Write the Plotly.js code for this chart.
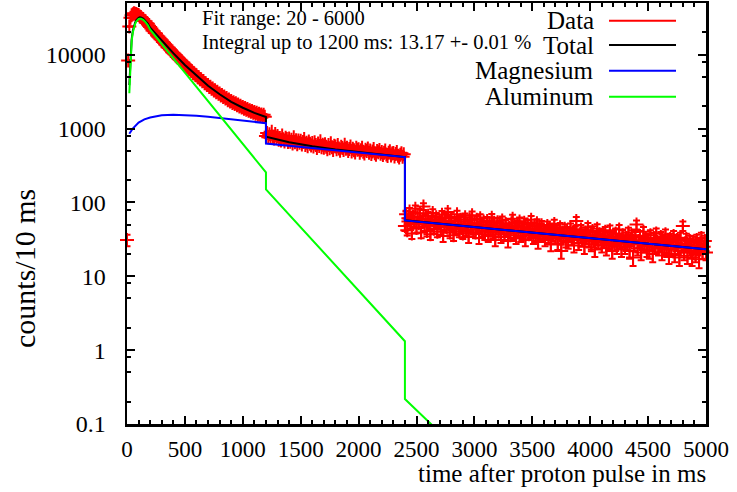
<!DOCTYPE html>
<html><head><meta charset="utf-8">
<script src="https://cdn.plot.ly/plotly-3.0.1.min.js"></script>
<style>html,body{margin:0;padding:0;background:#fff}#chart{width:737px;height:492px}</style>
</head><body><div id="chart"></div>
<script>
// Data: counts per 10 ms bin, starting at t = 0 ms
const binWidth = 10;
const countsA = [ // t = 0 .. 1190 ms
  31, 8300, 24000, 31500, 34200, 35100, 36300, 35800, 35600, 34700,
  34300, 32800, 32300, 30800, 30300, 28700, 28200, 26800, 26100, 24600,
  23700, 22600, 21300, 20800, 19600, 19300, 18100, 17600, 16900, 16200,
  15700, 14800, 14500, 13700, 13400, 12600, 12400, 11700, 11500, 10800,
  10600, 10100, 9850, 9300, 9150, 8650, 8500, 8050, 7900, 7480,
  7350, 6980, 6850, 6490, 6420, 6050, 6000, 5650, 5600, 5290,
  5240, 4950, 4930, 4640, 4650, 4360, 4380, 4100, 4110, 3870,
  3880, 3640, 3680, 3450, 3490, 3270, 3300, 3100, 3140, 2950,
  2980, 2800, 2840, 2670, 2710, 2540, 2590, 2420, 2470, 2320,
  2360, 2220, 2270, 2140, 2190, 2060, 2110, 1990, 2030, 1920,
  1960, 1850, 1890, 1790, 1830, 1740, 1770, 1680, 1720, 1630,
  1670, 1580, 1630, 1540, 1590, 1510, 1550, 1470, 1530, 1440
];
const countsB = [ // t = 1200 .. 2390 ms
  790, 872, 761, 835, 748, 902, 776, 731, 845, 752,
  790, 702, 741, 688, 803, 715, 668, 752, 721, 659,
  731, 664, 705, 628, 762, 651, 694, 612, 688, 640,
  682, 609, 657, 720, 598, 641, 575, 668, 622, 590,
  636, 571, 654, 598, 545, 625, 580, 672, 557, 601,
  548, 611, 566, 523, 597, 542, 630, 559, 512, 585,
  571, 524, 596, 537, 498, 566, 545, 510, 602, 531,
  549, 497, 526, 571, 488, 532, 509, 474, 551, 515,
  522, 470, 509, 548, 483, 460, 517, 495, 536, 468,
  503, 451, 489, 526, 464, 440, 497, 476, 512, 455,
  482, 437, 471, 505, 446, 423, 468, 492, 430, 459,
  466, 418, 451, 480, 427, 405, 443, 462, 414, 448
];
const countsC = [ // t = 2400 .. 5000 ms
  48, 69, 42, 61, 75, 51, 38, 64, 55, 82,
  45, 63, 52, 71, 39, 58, 88, 47, 60, 41,
  66, 49, 37, 58, 72, 44, 55, 63, 40, 52,
  57, 43, 68, 35, 54, 62, 46, 74, 50, 39,
  61, 47, 36, 56, 44, 69, 51, 40, 58, 45,
  38, 55, 63, 42, 50, 34, 59, 46, 67, 43,
  52, 39, 58, 45, 33, 61, 48, 41, 55, 37,
  47, 56, 35, 50, 42, 62, 39, 53, 31, 46,
  54, 40, 48, 34, 57, 44, 37, 51, 42, 30,
  45, 36, 52, 60, 38, 47, 33, 49, 41, 55,
  35, 46, 39, 53, 31, 44, 50, 37, 42, 58,
  41, 33, 47, 36, 52, 29, 44, 38, 49, 35,
  43, 31, 39, 48, 34, 45, 27, 40, 36, 51,
  33, 42, 28, 38, 46, 22, 39, 35, 44, 30,
  40, 29, 36, 45, 32, 38, 26, 41, 56, 34,
  28, 37, 43, 31, 35, 25, 39, 33, 46, 30,
  36, 27, 41, 30, 23, 34, 44, 29, 37, 32,
  26, 35, 30, 40, 24, 33, 28, 42, 31, 22,
  34, 27, 38, 25, 31, 43, 29, 23, 36, 30,
  25, 33, 28, 39, 22, 31, 36, 18, 27, 34,
  50, 24, 30, 35, 21, 28, 40, 26, 32, 23,
  31, 22, 36, 27, 20, 33, 25, 38, 29, 24,
  27, 34, 21, 30, 25, 37, 23, 29, 19, 32,
  23, 29, 35, 20, 27, 31, 24, 18, 33, 26,
  48, 21, 28, 32, 19, 26, 30, 22, 18, 29,
  26, 20, 31, 24, 17, 28, 33, 22, 25, 30,
  21
];

// Fit curves (time in ms, counts/10 ms)
const totalT = [20,30,40,50,60,70,80,90,100,110,120,140,160,180,200,300,400,500,600,700,800,900,1000,1100,1200,1200,1400,1600,1800,2000,2200,2400,2400,3700,5000];
const totalV = [3870,9900,15950,21000,24550,27100,29150,30700,31500,31930,31800,30800,28900,26300,23200,15500,10470,7260,5170,3790,2908,2296,1910,1627,1434,777,652,575,521,478,443,411,57.2,36.4,23.2];
const mgT = [20,50,100,150,200,300,400,500,600,700,800,900,1000,1100,1200,1200,1800,2400,2400,3700,5000];
const mgV = [850,1000,1200,1330,1410,1510,1540,1530,1490,1440,1390,1330,1280,1230,1180,627,507,410,57,36.4,23.2];
const alT = [20,30,40,50,60,70,80,90,100,110,120,140,160,180,200,400,600,800,1000,1200,1200,1600,2000,2400,2400,2700];
const alV = [3000,9000,15000,20000,23500,26000,28000,29500,30300,30700,30600,29500,27600,25000,21800,8930,3670,1508,620,254,150,31,6.4,1.32,0.218,0.077];

const legendNames = ['Data','Total','Magnesium','Aluminum'];
const legendColors = ['#ff0000','#000000','#0000ff','#00ff00'];
const fitTexts = ['Fit range: 20 - 6000','Integral up to 1200 ms: 13.17 +- 0.01 %'];
const xTickVals = [0,500,1000,1500,2000,2500,3000,3500,4000,4500,5000];
const yTickVals = [0.1,1,10,100,1000,10000];
const yTickText = ['0.1','1','10','100','1000','10000'];
const yMinorVals = [0.2,0.5,0.8,2,5,8,20,50,80,200,500,800,2000,5000,8000,20000];

const counts = countsA.concat(countsB, countsC);
const times = counts.map((_, i) => i * binWidth);
const errs = counts.map(v => Math.sqrt(v));

const FONT = 'Liberation Serif';

const traces = [
  {type:'scatter', mode:'markers', x:times, y:counts, cliponaxis:false,
   marker:{symbol:'cross-thin', size:10, color:'#ff0000', line:{color:'#ff0000', width:2}},
   error_y:{type:'data', array:errs, visible:true, color:'#ff0000', thickness:2, width:3.5},
   hoverinfo:'skip'},
  {type:'scatter', mode:'lines', x:totalT, y:totalV, line:{color:'#000000', width:2}},
  {type:'scatter', mode:'lines', x:mgT, y:mgV, line:{color:'#0000ff', width:2}},
  {type:'scatter', mode:'lines', x:alT, y:alV, line:{color:'#00ff00', width:2}},
  {type:'scatter', mode:'markers', x:[0], y:[1], yaxis:'y2', marker:{opacity:0}, hoverinfo:'skip'}
];

const rowY = [0.958, 0.9002, 0.8392, 0.7774];
const annotations = [];
const shapes = [];
legendNames.forEach((n, i) => {
  annotations.push({xref:'paper', yref:'paper', x:0.81, y:rowY[i], xanchor:'right', yanchor:'middle',
    text:n, showarrow:false, font:{family:FONT, size:25, color:'#000'}});
  shapes.push({type:'line', xref:'paper', yref:'paper', x0:0.8325, x1:0.9482, y0:rowY[i], y1:rowY[i],
    line:{color:legendColors[i], width:2}});
});
annotations.push({xref:'paper', yref:'paper', x:0.126, y:0.962, xanchor:'left', yanchor:'middle',
  text:fitTexts[0], showarrow:false, font:{family:FONT, size:20.5, color:'#000'}});
annotations.push({xref:'paper', yref:'paper', x:0.126, y:0.907, xanchor:'left', yanchor:'middle',
  text:fitTexts[1], showarrow:false, font:{family:FONT, size:20.5, color:'#000'}});
annotations.push({xref:'paper', yref:'paper', x:-0.178, y:0.3705, xanchor:'center', yanchor:'middle',
  text:'counts/10 ms', textangle:-90, showarrow:false, font:{family:FONT, size:30, color:'#000'}});
annotations.push({xref:'paper', yref:'paper', x:1.0035, y:-0.117, xanchor:'right', yanchor:'middle',
  text:'time after proton pulse in ms', showarrow:false, font:{family:FONT, size:25, color:'#000'}});

const yRange = [-1, Math.log10(50000)];
const layout = {
  width:737, height:492,
  margin:{l:127, r:31, t:3, b:68},
  paper_bgcolor:'#fff', plot_bgcolor:'#fff',
  showlegend:false,
  font:{family:FONT, color:'#000'},
  xaxis:{range:[0,5000], showline:true, linewidth:2.5, linecolor:'#000', mirror:'ticks',
    ticks:'inside', ticklen:8, tickwidth:2, tickcolor:'#000', tickvals:xTickVals,
    ticktext:xTickVals.map(String), showgrid:false, zeroline:false, ticklabelstandoff:3,
    tickfont:{family:FONT, size:23, color:'#000'},
    minor:{ticks:'inside', ticklen:4, tickwidth:2, tickcolor:'#000', dtick:100, showgrid:false}},
  yaxis:{type:'log', range:yRange, showline:true, linewidth:2.5, linecolor:'#000', mirror:'ticks',
    ticks:'inside', ticklen:8, tickwidth:2, tickcolor:'#000', tickvals:yTickVals, ticktext:yTickText,
    showgrid:false, zeroline:false, ticklabelstandoff:14,
    tickfont:{family:FONT, size:24, color:'#000'}},
  yaxis2:{type:'log', range:yRange, overlaying:'y', side:'left', showline:false, mirror:'ticks',
    ticks:'inside', ticklen:4, tickwidth:2, tickcolor:'#000', tickvals:yMinorVals,
    showticklabels:false, showgrid:false, zeroline:false},
  annotations:annotations,
  shapes:shapes
};
Plotly.newPlot('chart', traces, layout, {staticPlot:true, displayModeBar:false});
</script>
</body></html>
